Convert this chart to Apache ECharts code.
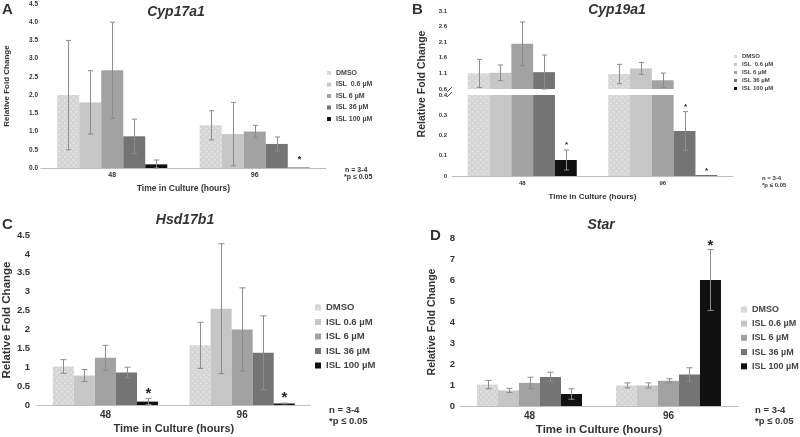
<!DOCTYPE html>
<html><head><meta charset="utf-8">
<script src="https://cdn.jsdelivr.net/npm/echarts@6/dist/echarts.min.js"></script>
<style>html,body{margin:0;padding:0;background:#fff}#c{width:800px;height:437px}</style>
</head><body><div id="c"></div>
<script>
// ---------- data ----------
const categories = ['48', '96'];
const doses = ['DMSO', 'ISL 0.6 µM', 'ISL 6 µM', 'ISL 36 µM', 'ISL 100 µM'];
const doseColors = ['#d4d4d4', '#c6c6c6', '#a2a2a2', '#747474', '#111111'];

// rows = doses, columns = categories (48 h, 96 h)
const cyp17Mean = [[2.0, 1.17], [1.8, 0.93], [2.68, 1.0], [0.87, 0.66], [0.1, 0.01]];
const cyp17Err  = [[1.5, 0.4], [0.87, 0.87], [1.32, 0.17], [0.47, 0.19], [0.12, 0]];
const cyp17Star = [[0, 0], [0, 0], [0, 0], [0, 0], [0, 1]];

const cyp19Mean = [[1.1, 1.08], [1.12, 1.26], [2.05, 0.88], [1.14, 0.222], [0.079, 0.003]];
const cyp19Err  = [[0.45, 0.31], [0.25, 0.19], [0.7, 0.23], [0.55, 0.096], [0.049, 0]];
const cyp19Star = [[0, 0], [0, 0], [0, 0], [0, 1], [1, 1]];

const hsdMean = [[1.02, 1.58], [0.78, 2.55], [1.25, 2.0], [0.86, 1.38], [0.09, 0.04]];
const hsdErr  = [[0.18, 0.61], [0.16, 1.72], [0.33, 1.1], [0.14, 0.98], [0.08, 0.01]];
const hsdStar = [[0, 0], [0, 0], [0, 0], [0, 0], [1, 1]];

const starMean = [[1.02, 0.98], [0.74, 0.98], [1.1, 1.2], [1.38, 1.5], [0.57, 6.0]];
const starErr  = [[0.2, 0.12], [0.1, 0.12], [0.27, 0.1], [0.23, 0.32], [0.25, 1.45]];
const starStar = [[0, 0], [0, 0], [0, 0], [0, 0], [0, 1]];

const yTicksA = {min: 0, max: 4.5, interval: 0.5};
const yTicksBUp = {min: 0.6, max: 3.1, interval: 0.5};
const yTicksBLo = {min: 0, max: 0.4, interval: 0.1};
const yTicksC = {min: 0, max: 4.5, interval: 0.5};
const yTicksD = {min: 0, max: 8, interval: 1};

// ---------- helpers ----------
const FF = "'Liberation Sans', Arial, sans-serif";
const TXT = '#333';
const dmsoDecal = {symbol: 'rect', symbolSize: 1, dashArrayX: [2, 2], dashArrayY: [2, 2],
  rotation: Math.PI / 4, color: 'rgba(255,255,255,0.35)'};

function barSeries(gi, mean, gap, keep) {
  return doses.map((name, d) => ({
    type: 'bar', name, xAxisIndex: gi, yAxisIndex: gi,
    data: mean[d].map(v => (keep && !keep(v)) ? '-' : v),
    barGap: '0%', barCategoryGap: (gap * 100) + '%',
    itemStyle: d === 0 ? {color: doseColors[d], decal: dmsoDecal} : {color: doseColors[d]},
    clip: true, silent: true
  }));
}

function errSeries(gi, mean, err, star, o) {
  const data = [];
  for (let d = 0; d < 5; d++) for (let c = 0; c < 2; c++) {
    const v = mean[d][c];
    if (o.keep && !o.keep(v)) continue;
    data.push([c, v, err[d][c], d, star[d][c]]);
  }
  return {
    type: 'custom', xAxisIndex: gi, yAxisIndex: gi, silent: true, clip: false, z: 5, data,
    renderItem(params, api) {
      const c = api.value(0), v = api.value(1), e = api.value(2), d = api.value(3), s = api.value(4);
      const band = api.size([1, 0])[0];
      const bw = band * (1 - o.gap) / 5;
      const x = Math.round(api.coord([c, v])[0] + (d - 2) * bw) + 0.5;
      const yv = api.coord([c, v])[1];
      const top = api.coord([c, v + e])[1];
      const bot = api.coord([c, Math.max(v - e, o.floor)])[1];
      const ch = [];
      const st = {stroke: o.ec, lineWidth: 1};
      if (e > 0) {
        ch.push({type: 'line', shape: {x1: x, y1: top, x2: x, y2: bot}, style: st});
        ch.push({type: 'line', shape: {x1: x - o.cap, y1: top, x2: x + o.cap, y2: top}, style: st});
        ch.push({type: 'line', shape: {x1: x - o.cap, y1: bot, x2: x + o.cap, y2: bot}, style: st});
      }
      if (s) {
        const ty = Math.min(top, yv) - o.starOff;
        ch.push({type: 'text', x: x, y: ty, style: {text: '*', font: 'bold ' + o.starSize + 'px ' + FF, fill: '#222',
          align: 'center', verticalAlign: 'middle', textAlign: 'center', textVerticalAlign: 'middle'}});
      }
      return {type: 'group', children: ch};
    }
  };
}

function xAxis(gi, fs, margin, name, nameFs, nameGap, show) {
  return {
    type: 'category', gridIndex: gi, data: categories, show: show !== false,
    axisLine: {lineStyle: {color: '#bdbdbd', width: 1}}, axisTick: {show: false},
    axisLabel: {fontSize: fs, fontWeight: 'bold', color: TXT, margin, fontFamily: FF},
    name, nameLocation: 'middle', nameGap,
    nameTextStyle: {fontSize: nameFs, fontWeight: 'bold', color: TXT, fontFamily: FF}
  };
}
function yAxis(gi, t, fs, margin, fmt, name, nameFs, nameGap) {
  return {
    type: 'value', gridIndex: gi, min: t.min, max: t.max, interval: t.interval,
    axisLine: {show: false}, axisTick: {show: false}, splitLine: {show: false},
    axisLabel: {fontSize: fs, fontWeight: 'bold', color: TXT, margin, fontFamily: FF, formatter: fmt},
    name: name || '', nameLocation: 'middle', nameGap: nameGap || 0,
    nameTextStyle: {fontSize: nameFs || 8, fontWeight: 'bold', color: TXT, fontFamily: FF}
  };
}
function legend(left, top, size, fs, lh, gap, twoSpace) {
  return {
    orient: 'vertical', left, top, data: doses, icon: 'rect', itemWidth: size, itemHeight: size,
    itemGap: gap, padding: 0, selectedMode: false,
    formatter: twoSpace ? (n => n.replace('ISL 0.6', 'ISL  0.6')) : undefined,
    textStyle: {fontSize: fs, lineHeight: lh, fontWeight: 'bold', color: '#444', fontFamily: FF}
  };
}
function txt(x, y, text, size, opts) {
  opts = opts || {};
  return {type: 'text', x, y, rotation: opts.rot || 0, silent: true,
    style: {text, font: (opts.style || 'bold') + ' ' + size + 'px ' + FF, fill: opts.fill || TXT,
      textAlign: opts.align || 'left', textVerticalAlign: 'middle', align: opts.align || 'left', verticalAlign: 'middle'}};
}

const gA = 0.228, gB = 0.224, gC = 0.23, gD = 0.245;
const ec = '#8c8c8c';

const option = {
  animation: false,
  textStyle: {fontFamily: FF},
  grid: [
    {left: 41, top: 4, width: 285, height: 164},
    {left: 452, top: 11, width: 281, height: 78},
    {left: 452, top: 95, width: 281, height: 81},
    {left: 37, top: 235, width: 273.5, height: 170},
    {left: 460, top: 238, width: 278, height: 168}
  ],
  xAxis: [
    xAxis(0, 7, 4, 'Time in Culture (hours)', 8.5, 16),
    xAxis(1, 6, 4, '', 8, 0, false),
    xAxis(2, 6, 4, 'Time in Culture (hours)', 8, 17),
    xAxis(3, 10, 5, 'Time in Culture (hours)', 11, 18),
    xAxis(4, 10, 5, 'Time in Culture (hours)', 11.5, 18)
  ],
  yAxis: [
    yAxis(0, yTicksA, 6.5, 3, v => v.toFixed(1), 'Relative Fold Change', 8, 30),
    yAxis(1, yTicksBUp, 6, 5, v => v.toFixed(1)),
    yAxis(2, yTicksBLo, 6, 5, v => String(+v.toFixed(1))),
    yAxis(3, yTicksC, 9.5, 7, v => String(+v.toFixed(1)), 'Relative Fold Change', 11.5, 24),
    yAxis(4, yTicksD, 9.5, 5, v => String(v), 'Relative Fold Change', 10.5, 22)
  ],
  legend: [
    legend(327, 69, 4, 7, 8, 3.5, true),
    legend(734, 53, 3, 6, 7, 1, true),
    legend(315, 302, 6, 9.5, 11, 3.5, false),
    legend(741, 304, 6, 9, 11, 3.2, false)
  ],
  series: [].concat(
    barSeries(0, cyp17Mean, gA),
    errSeries(0, cyp17Mean, cyp17Err, cyp17Star, {gap: gA, cap: 2.5, ec, starOff: 8, starSize: 9, floor: 0}),
    barSeries(1, cyp19Mean, gB, v => v > 0.6),
    errSeries(1, cyp19Mean, cyp19Err, cyp19Star, {gap: gB, cap: 2.5, ec, starOff: 6, starSize: 8, floor: 0.6, keep: v => v > 0.6}),
    barSeries(2, cyp19Mean, gB),
    errSeries(2, cyp19Mean, cyp19Err, cyp19Star, {gap: gB, cap: 2.5, ec, starOff: 5, starSize: 8, floor: 0, keep: v => v < 0.4}),
    barSeries(3, hsdMean, gC),
    errSeries(3, hsdMean, hsdErr, hsdStar, {gap: gC, cap: 3, ec, starOff: 5, starSize: 15, floor: 0}),
    barSeries(4, starMean, gD),
    errSeries(4, starMean, starErr, starStar, {gap: gD, cap: 3, ec, starOff: 4, starSize: 15, floor: 0})
  ),
  graphic: [
    txt(2, 10, 'A', 15),
    txt(412, 10, 'B', 15),
    txt(2, 225, 'C', 15),
    txt(430, 236, 'D', 15),
    txt(176, 12, 'Cyp17a1', 14, {style: 'italic bold', align: 'center'}),
    txt(617, 10, 'Cyp19a1', 14, {style: 'italic bold', align: 'center'}),
    txt(185, 220, 'Hsd17b1', 14, {style: 'italic bold', align: 'center'}),
    txt(601, 225, 'Star', 14, {style: 'italic bold', align: 'center'}),
    txt(422, 84, 'Relative Fold Change', 10.5, {align: 'center', rot: Math.PI / 2}),
    txt(345, 170, 'n = 3-4', 7),
    txt(344, 177.5, '*p ≤ 0.05', 7),
    txt(762, 178, 'n = 3-4', 6),
    txt(762, 185, '*p ≤ 0.05', 6),
    txt(329, 410, 'n = 3-4', 9.5),
    txt(329, 421, '*p ≤ 0.05', 9.5),
    txt(755, 410, 'n = 3-4', 9.5),
    txt(755, 421, '*p ≤ 0.05', 9.5),
    {type: 'line', silent: true, shape: {x1: 447, y1: 92, x2: 452, y2: 87}, style: {stroke: '#555', lineWidth: 1}},
    {type: 'line', silent: true, shape: {x1: 447, y1: 97, x2: 452, y2: 92}, style: {stroke: '#555', lineWidth: 1}}
  ]
};

const chart = echarts.init(document.getElementById('c'), null, {renderer: 'canvas'});
chart.setOption(option);
</script>
</body></html>
